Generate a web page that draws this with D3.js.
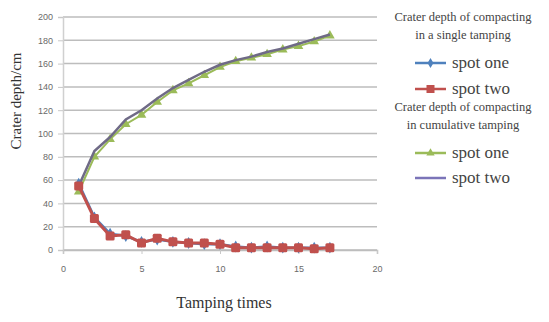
<!DOCTYPE html>
<html><head><meta charset="utf-8">
<script src="https://cdn.jsdelivr.net/npm/d3@7"></script>
<style>body{margin:0;background:#fff}svg{display:block}</style>
</head><body>
<script>
const tampingTimes = [1,2,3,4,5,6,7,8,9,10,11,12,13,14,15,16,17];
const singleSpotOne = [57,28,14,12,7,9,7,6,5,5,3,2,3,2,2,2,2];
const singleSpotTwo = [55,27,12,13,6,10,7,6,6,5,2,2,2,2,2,1,2];
const cumulSpotOne = [50,80,95,108,116,127,137,143,150,157,162,165,168,172,175,179,184];
const cumulSpotTwo = [55,85,97,112,120,130,139,146,153,159,163,166,170,173,177,181,185];
const xTicks = [0,5,10,15,20];
const yTicks = [0,20,40,60,80,100,120,140,160,180,200];
const legendGroup1 = ["Crater depth of compacting","in a single tamping"];
const legendGroup2 = ["Crater depth of compacting","in cumulative tamping"];
const seriesNames = ["spot one","spot two"];

const W=549,H=322;
const svg=d3.select("body").append("svg").attr("width",W).attr("height",H);
const x=d3.scaleLinear().domain([0,20]).range([63,377]);
const y=d3.scaleLinear().domain([0,200]).range([250,17]);
const serif="'Liberation Serif','DejaVu Serif',serif";

svg.append("g").selectAll("line").data(yTicks).join("line")
  .attr("x1",x(0)).attr("x2",x(20)).attr("y1",d=>y(d)).attr("y2",d=>y(d))
  .attr("stroke","#bdbdbd").attr("stroke-width",1.5);
const ya=svg.append("g").attr("transform",`translate(${x(0)},0)`)
  .call(d3.axisLeft(y).tickValues(yTicks).tickSize(5).tickPadding(5));
ya.select(".domain").attr("stroke","#d0d0d0").attr("stroke-width",1.5);
ya.selectAll(".tick line").attr("stroke","#c8c8c8");
ya.selectAll("text").attr("fill","#6a6a6a").style("font-family","'Liberation Sans',sans-serif").style("font-size","9px");
const xa=svg.append("g").attr("transform",`translate(0,${y(0)})`)
  .call(d3.axisBottom(x).tickValues(xTicks).tickSize(4).tickPadding(12));
xa.select(".domain").attr("stroke","#bdbdbd").attr("stroke-width",1.5);
xa.selectAll(".tick line").attr("stroke","#c8c8c8");
xa.selectAll("text").attr("fill","#6a6a6a").style("font-family","'Liberation Sans',sans-serif").style("font-size","9px");

svg.append("text").attr("transform","translate(21,101) rotate(-90)").attr("text-anchor","middle")
  .style("font-family",serif).style("font-size","15px").attr("fill","#333").text("Crater depth/cm");
svg.append("text").attr("x",224).attr("y",308).attr("text-anchor","middle")
  .style("font-family",serif).style("font-size","16px").attr("fill","#333").text("Tamping times");

const line=d3.line().x((d,i)=>x(tampingTimes[i])).y(d=>y(d));
const colors={blue:"#4f81bd",red:"#c0504d",green:"#9bbb59",purple:"#6f6a86"};

svg.append("path").datum(cumulSpotOne).attr("d",line).attr("fill","none").attr("stroke",colors.green).attr("stroke-width",2);
svg.append("g").selectAll("path").data(cumulSpotOne).join("path")
  .attr("transform",(d,i)=>`translate(${x(tampingTimes[i])},${y(d)})`)
  .attr("d",d3.symbol(d3.symbolTriangle,40)).attr("fill",colors.green);
svg.append("path").datum(cumulSpotTwo).attr("d",line).attr("fill","none").attr("stroke",colors.purple).attr("stroke-width",2.5);

svg.append("path").datum(singleSpotOne).attr("d",line).attr("fill","none").attr("stroke",colors.blue).attr("stroke-width",2.5);
svg.append("g").selectAll("path").data(singleSpotOne).join("path")
  .attr("transform",(d,i)=>`translate(${x(tampingTimes[i])},${y(d)})`)
  .attr("d",d3.symbol(d3.symbolDiamond,40)).attr("fill",colors.blue);
svg.append("path").datum(singleSpotTwo).attr("d",line).attr("fill","none").attr("stroke",colors.red).attr("stroke-width",3);
svg.append("g").selectAll("rect").data(singleSpotTwo).join("rect")
  .attr("x",(d,i)=>x(tampingTimes[i])-4.5).attr("y",d=>y(d)-4.5).attr("width",9).attr("height",9).attr("rx",1.5)
  .attr("fill",colors.red);

const lg=svg.append("g");
const hdr=(lines,y0)=>lines.forEach((t,i)=>lg.append("text").attr("x",463).attr("y",y0+i*18).attr("text-anchor","middle")
  .style("font-family",serif).style("font-size","12.5px").attr("fill","#444").text(t));
hdr(legendGroup1,21); hdr(legendGroup2,111);
const item=(yy,col,name,mark)=>{
  lg.append("line").attr("x1",415).attr("x2",446).attr("y1",yy).attr("y2",yy).attr("stroke",col).attr("stroke-width",2.5);
  if(mark==="diamond") lg.append("path").attr("transform",`translate(430.5,${yy})`).attr("d",d3.symbol(d3.symbolDiamond,30)).attr("fill",col);
  if(mark==="square") lg.append("rect").attr("x",426.5).attr("y",yy-4).attr("width",8).attr("height",8).attr("fill",col);
  if(mark==="triangle") lg.append("path").attr("transform",`translate(430.5,${yy})`).attr("d",d3.symbol(d3.symbolTriangle,30)).attr("fill",col);
  lg.append("text").attr("x",452).attr("y",yy+5).style("font-family",serif).style("font-size","17px").attr("fill","#444").text(name);
};
item(63,colors.blue,seriesNames[0],"diamond");
item(89,colors.red,seriesNames[1],"square");
item(153,colors.green,seriesNames[0],"triangle");
item(178,"#7b74b8",seriesNames[1],"none");
</script>
</body></html>
